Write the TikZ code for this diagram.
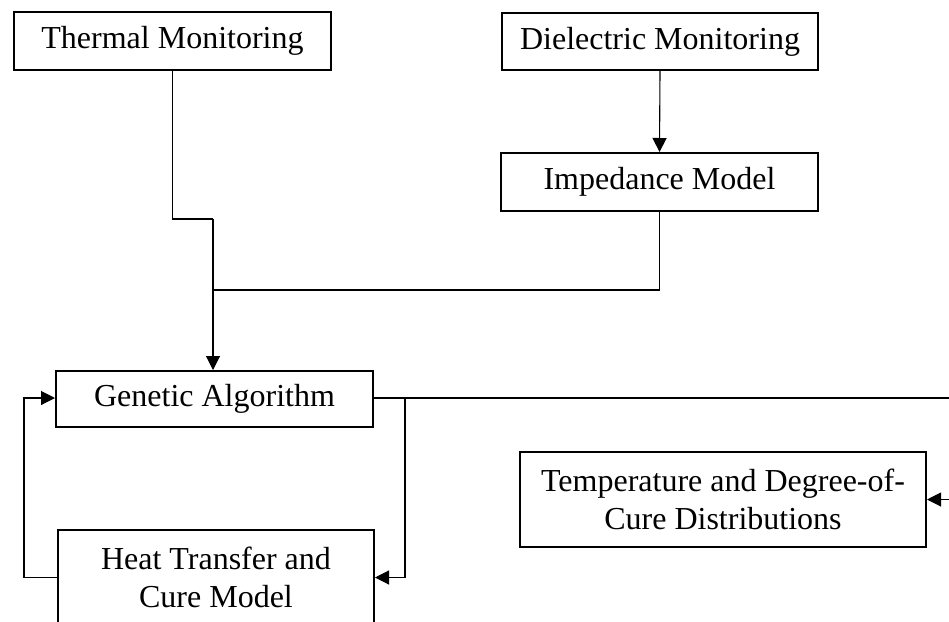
\documentclass[tikz,border=0pt]{standalone}
\usepackage{fontspec}
\setmainfont{Liberation Serif}
\usetikzlibrary{arrows.meta,calc}

\tikzset{
  block/.style={draw, line width=2pt, inner sep=0pt, align=center,
    font=\fontsize{32}{38.4}\selectfont},
  link/.style={line width=1.1pt},
  arr/.style={link, -{Triangle[length=14pt,width=14pt]}}
}

\begin{document}
\begin{tikzpicture}[x=1pt,y=-1pt]
  \useasboundingbox (0,0) rectangle (949,621);
  \clip (0,0) rectangle (949,621);

  % blocks
  \node[block, minimum width=317pt, minimum height=58pt] (th) at (172.5,41) {Thermal Monitoring};
  \node[block, minimum width=316pt, minimum height=57pt] (di) at (660,41.5) {Dielectric Monitoring};
  \node[block, minimum width=317pt, minimum height=58pt] (im) at (659.5,182) {Impedance Model};
  \node[block, minimum width=317pt, minimum height=56pt] (ga) at (214.5,399) {Genetic Algorithm};
  \node[block, minimum width=316pt, minimum height=95pt] (ht) at (216,577.5) {Heat Transfer and\\Cure Model};
  \node[block, minimum width=406pt, minimum height=95pt] (te) at (723,499.5) {Temperature and Degree-of-\\Cure Distributions};

  % junction points
  \coordinate (tk) at (213,219);
  \coordinate (join) at (213,290);
  \coordinate (split) at (405,398);
  \coordinate (far) at (962,398);

  % monitoring paths into the genetic algorithm
  \draw[arr] (di.south) -- (im.north);
  \draw[link] (th.south) |- (tk);
  \draw[link] (im.south) |- (join);
  \draw[arr] (tk) -- (tk |- ga.north);

  % feedback loop with the heat transfer and cure model
  \draw[link] (ga.east |- split) -- (far);
  \draw[arr] (split) |- (ht.east);
  \draw[arr] (ht.west) -- (24,577.5) |- ($(ga.west)+(0,-1)$);

  % output to the distributions
  \draw[arr] (far) |- (te.east);
\end{tikzpicture}
\end{document}
